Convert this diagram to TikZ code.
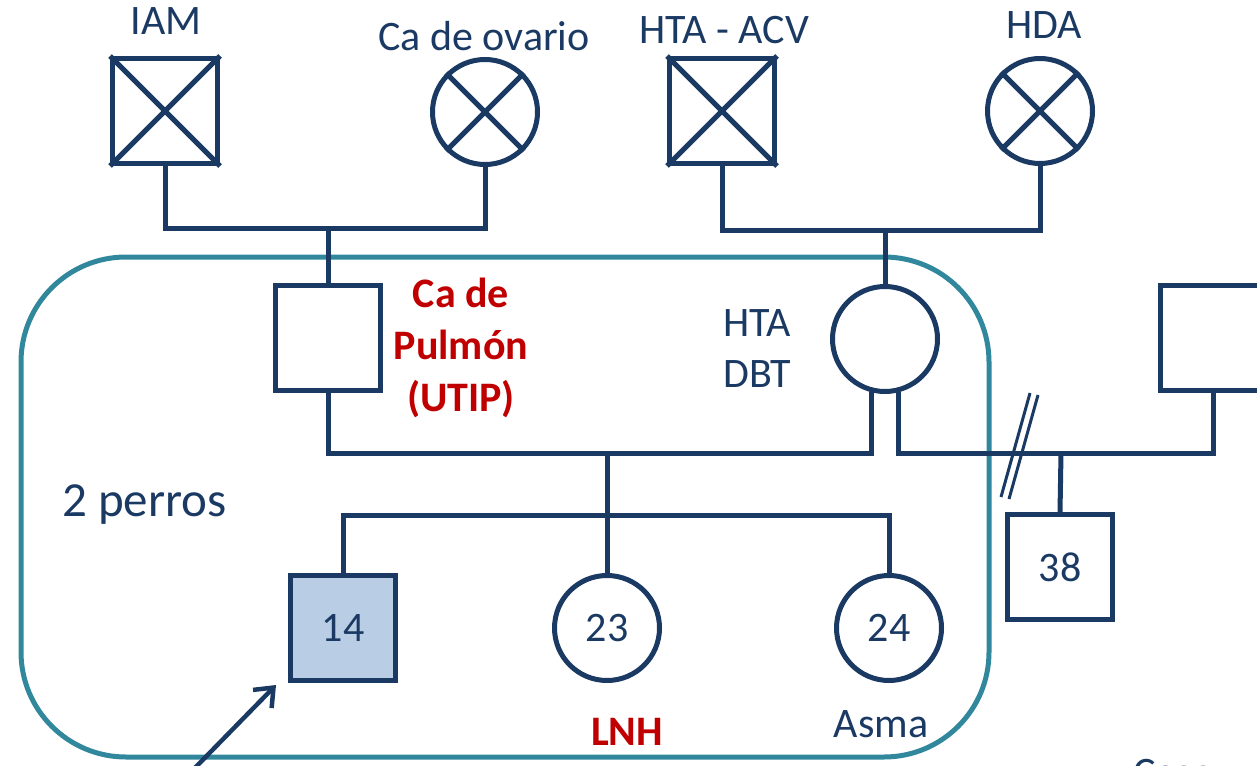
\documentclass[tikz,border=0pt]{standalone}
\usepackage{fontspec}
\setmainfont{Carlito}
\usetikzlibrary{arrows.meta,positioning}

\definecolor{azul}{RGB}{27,58,99}
\definecolor{verdeazul}{RGB}{49,135,155}
\definecolor{rojo}{RGB}{192,0,0}
\definecolor{celeste}{RGB}{185,205,228}

\begin{document}
\begin{tikzpicture}[x=1pt, y=-1pt, >={Straight Barb[length=16pt,width=26pt]},
    every node/.style={font=\fontsize{42}{51}\selectfont, text=azul},
    varon/.style={draw=azul, line width=5pt, rectangle, minimum size=105pt, inner sep=0pt},
    mujer/.style={draw=azul, line width=5pt, circle, minimum size=105pt, inner sep=0pt},
    linea/.style={draw=azul, line width=5pt},
    rotulo/.style={inner sep=0pt, anchor=base},
    enfermo/.style={rotulo, text=rojo, font=\fontsize{42}{52}\selectfont\bfseries}]
    \useasboundingbox (0,0) rectangle (1257,765);
    \clip (0,0) rectangle (1257,765);

    % abuelos
    \node[varon] (iam) at (165,111) {};
    \node[mujer] (ovario) at (485,112) {};
    \node[varon] (acv) at (722,111) {};
    \node[mujer] (hda) at (1040,111) {};
    \draw[linea] (iam.north west) -- (iam.south east) (iam.north east) -- (iam.south west);
    \draw[linea] (ovario.north west) -- (ovario.south east) (ovario.north east) -- (ovario.south west);
    \draw[linea] (acv.north west) -- (acv.south east) (acv.north east) -- (acv.south west);
    \draw[linea] (hda.north west) -- (hda.south east) (hda.north east) -- (hda.south west);

    \node[rotulo] (t-iam) at (166,35) {IAM};
    \node[rotulo] (t-ovario) at (484,51) {Ca de ovario};
    \node[rotulo] (t-acv) at (724,44) {HTA - ACV};
    \node[rotulo] (t-hda) at (1044,39) {HDA};

    % grupo familiar
    \draw[verdeazul, line width=5pt, rounded corners=105pt] (21,257) rectangle (989,757);

    % padres
    \node[varon] (padre) at (328,338) {};
    \node[mujer] (madre) at (885,339) {};
    \node[varon] (pareja) at (1213,338) {};

    \coordinate (u1) at (328,228);
    \coordinate (u2) at (885,230);
    \draw[linea] (iam.south) |- (u1) -| (ovario.south);
    \draw[linea] (u1) -- (padre.north);
    \draw[linea] (acv.south) |- (u2) -| (hda.south);
    \draw[linea] (u2) -- (madre.north);

    \node[enfermo, align=center, anchor=center] (t-padre) at (461,348) {Ca de\\Pulmón\\(UTIP)};
    \node[rotulo, align=left, anchor=west] (t-madre) at (723,349) {HTA\\DBT};
    \node[rotulo, anchor=base west, font=\fontsize{49}{58}\selectfont] (perros) at (62,516) {2 perros};

    % hijos
    \coordinate (m1) at (607,453);
    \coordinate (s1) at (607,515);
    \coordinate (m2) at (1061,453);
    \node[varon, fill=celeste] (hijo14) at (343,628) {14};
    \node[mujer] (hija23) at (607,628) {23};
    \node[mujer] (hija24) at (889,628) {24};
    \node[varon] (hijo38) at (1060,567) {38};

    \draw[linea] (padre.south) |- (m1) -| (madre.-104);
    \draw[linea] (m1) -- (s1) -- (hija23.north);
    \draw[linea] (hijo14.north) |- (s1) -| (hija24.north);
    \draw[linea] (madre.-76) |- (m2) -| (pareja.south);
    \draw[linea] (m2) -- (hijo38.north);

    % separacion
    \draw[azul, line width=3pt] (1030,393) -- (1001,497) (1038,395) -- (1009,499);

    \node[enfermo] (t-lnh) at (627,745) {LNH};
    \node[rotulo] (t-asma) at (881,737) {Asma};

    % caso indice
    \coordinate (inicio) at (188,775);
    \draw[->, azul, line width=4.5pt] (inicio) -- ([shift={(-12pt,-2pt)}]hijo14.south west);
    \node[rotulo, anchor=base west] (caso) at (1133,786) {Caso};
\end{tikzpicture}
\end{document}
